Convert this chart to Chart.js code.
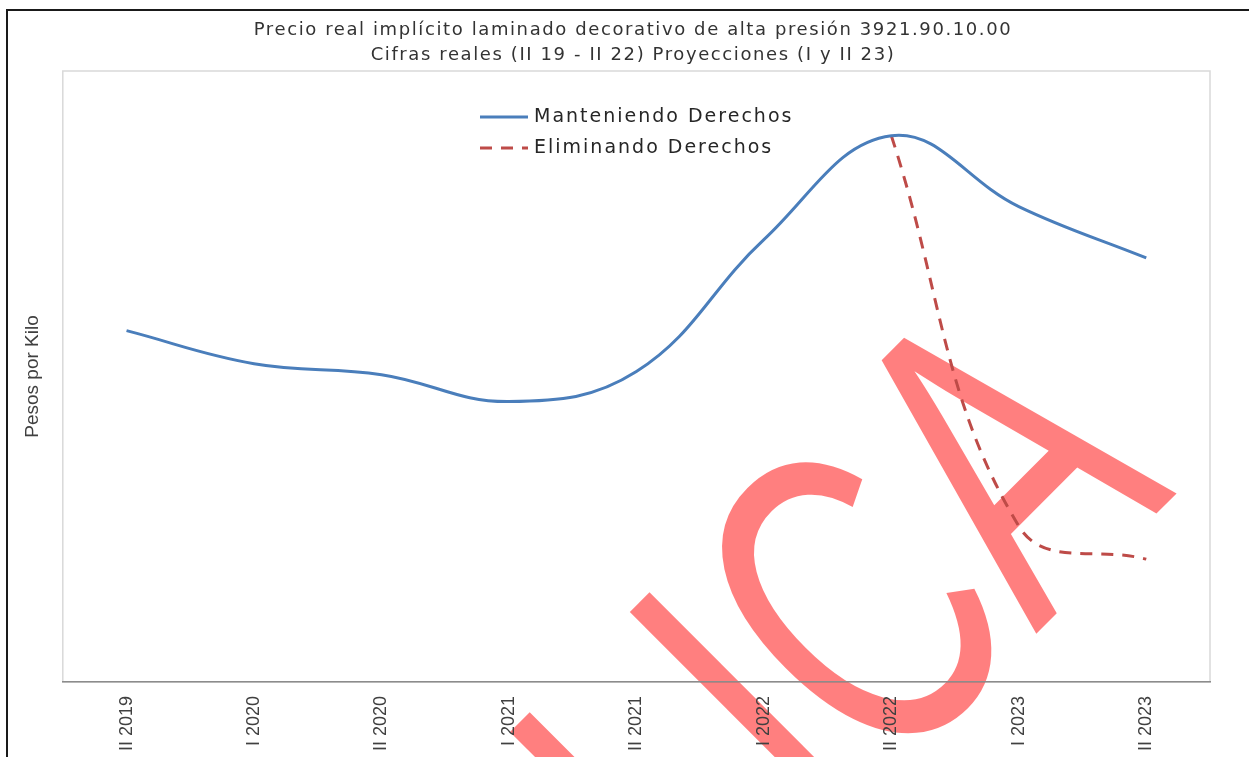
<!DOCTYPE html>
<html>
<head>
<meta charset="utf-8">
<script src="https://cdn.jsdelivr.net/npm/chart.js@4"></script>
<style>
  html, body { margin: 0; padding: 0; background: #fff; }
  #wrap { width: 1249px; height: 757px; }
</style>
</head>
<body>
<div id="wrap"><canvas id="chart"></canvas></div>
<script>
// periods (semesters)
const labels = ["II 2019", "I 2020", "II 2020", "I 2021", "II 2021", "I 2022", "II 2022", "I 2023", "II 2023"];
// price index (no y ticks shown, so the scale is relative 0-100)
const manteniendo = [57.5, 52.1, 50.3, 45.9, 50.8, 72.4, 89.4, 77.8, 69.4];
const eliminando = [null, null, null, null, null, null, 89.4, 25.5, 20.1];
const titleLines = [
  "Precio real implícito laminado decorativo de alta presión 3921.90.10.00",
  "Cifras reales (II 19 - II 22) Proyecciones (I y II 23)"
];
const watermark = "PÚBLICA";

const textColor = "#404040";

// frame, plot border, title and watermark, drawn under everything else
const background = {
  id: "background",
  beforeDraw(chart) {
    const { ctx, chartArea: a } = chart;
    ctx.save();
    ctx.strokeStyle = "#1a1a1a";
    ctx.lineWidth = 2;
    ctx.beginPath();
    ctx.moveTo(7, 757);
    ctx.lineTo(7, 10);
    ctx.lineTo(1249, 10);
    ctx.stroke();

    ctx.strokeStyle = "#d9d9d9";
    ctx.lineWidth = 1.5;
    ctx.strokeRect(a.left, a.top, a.right - a.left, a.bottom - a.top);

    // two line title, centred on the page
    ctx.fillStyle = "#333";
    ctx.font = "18px 'DejaVu Sans'";
    ctx.letterSpacing = "1.6px";
    ctx.textAlign = "center";
    ctx.textBaseline = "middle";
    titleLines.forEach((t, i) => ctx.fillText(t, 633, 30 + i * 25));
    ctx.letterSpacing = "0px";

    ctx.translate(1177, 493);
    ctx.rotate(-Math.PI / 4);
    ctx.scale(0.68, 1);
    ctx.fillStyle = "rgba(255, 0, 0, 0.5)";
    ctx.font = "440px 'Liberation Sans'";
    ctx.textAlign = "right";
    ctx.textBaseline = "alphabetic";
    ctx.fillText(watermark, 0, 0);
    ctx.restore();
  }
};

// legend sitting inside the plot area, one entry per line
const insideLegend = {
  id: "insideLegend",
  afterDraw(chart) {
    const { ctx } = chart;
    ctx.save();
    ctx.font = "19px 'DejaVu Sans'";
    ctx.letterSpacing = "2px";
    ctx.textBaseline = "middle";
    chart.data.datasets.forEach((ds, i) => {
      const y = 117 + i * 31;
      ctx.strokeStyle = ds.borderColor;
      ctx.lineWidth = ds.borderWidth;
      ctx.setLineDash(ds.borderDash || []);
      ctx.beginPath();
      ctx.moveTo(480, y);
      ctx.lineTo(528, y);
      ctx.stroke();
      ctx.setLineDash([]);
      ctx.fillStyle = "#262626";
      ctx.fillText(ds.label, 534, y);
    });
    ctx.letterSpacing = "0px";
    ctx.restore();
  }
};

new Chart(document.getElementById("chart"), {
  type: "line",
  data: {
    labels: labels,
    datasets: [
      {
        label: "Manteniendo Derechos",
        data: manteniendo,
        borderColor: "#4a7ebb",
        borderWidth: 3,
        tension: 0.4,
        pointRadius: 0,
        fill: false
      },
      {
        label: "Eliminando Derechos",
        data: eliminando,
        borderColor: "#be4b48",
        borderWidth: 3,
        borderDash: [12, 9],
        tension: 0.4,
        pointRadius: 0,
        fill: false
      }
    ]
  },
  options: {
    responsive: true,
    maintainAspectRatio: false,
    animation: false,
    layout: { padding: { top: 71, right: 39, bottom: -8, left: 12 } },
    plugins: {
      legend: { display: false },
      tooltip: { enabled: false },
      title: { display: false }
    },
    scales: {
      x: {
        offset: true,
        grid: { display: false, drawTicks: false, z: 1 },
        border: { display: true, color: "#8c8c8c", width: 1.5, z: 1 },
        ticks: {
          z: 1,
          color: textColor,
          font: { family: "'Liberation Sans'", size: 18 },
          minRotation: 90,
          maxRotation: 90,
          padding: 14
        }
      },
      y: {
        min: 0,
        max: 100,
        grid: { display: false, drawTicks: false, z: 1 },
        border: { display: false, z: 1 },
        ticks: { display: false, z: 1 },
        title: {
          display: true,
          text: "Pesos por Kilo",
          color: textColor,
          font: { family: "'Liberation Sans'", size: 19 },
          padding: { top: 9, bottom: 19 }
        }
      }
    }
  },
  plugins: [background, insideLegend]
});
</script>
</body>
</html>
